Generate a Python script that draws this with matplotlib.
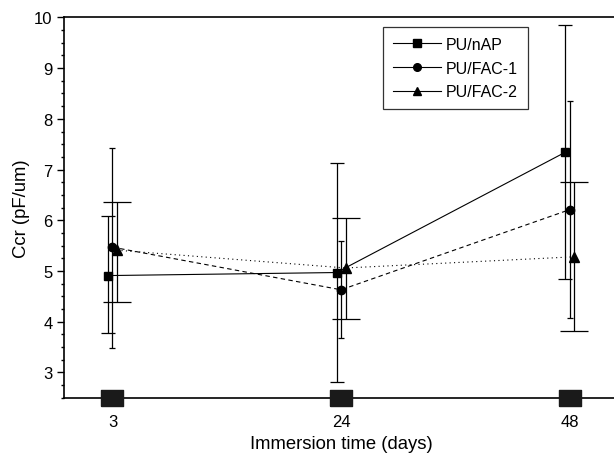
import numpy as np
import matplotlib
matplotlib.use("Agg")
import matplotlib.pyplot as plt
from matplotlib.lines import Line2D
from matplotlib.ticker import MultipleLocator

plt.rcParams['font.family'] = ['Liberation Sans', 'DejaVu Sans']

# immersion time categories
days = ['3', '24', '48']

# PU/nAP
nap_mean = [4.91, 4.97, 7.34]
nap_low = [3.77, 2.81, 4.85]
nap_high = [6.08, 7.12, 9.86]

# PU/FAC-1
fac1_mean = [5.47, 4.63, 6.21]
fac1_low = [3.49, 3.67, 4.08]
fac1_high = [7.43, 5.59, 8.36]

# PU/FAC-2
fac2_mean = [5.41, 5.06, 5.28]
fac2_low = [4.39, 4.05, 3.81]
fac2_high = [6.36, 6.05, 6.75]

x = np.arange(len(days))

fig = plt.figure(figsize=(6.14, 4.60), dpi=100)
ax = fig.add_axes([0.105, 0.133, 0.901, 0.827])

def draw(mean, low, high, dx, marker, ms, ls, cap):
    mean = np.array(mean)
    yerr = [mean - np.array(low), np.array(high) - mean]
    ax.errorbar(x + dx, mean, yerr=yerr, fmt='none', ecolor='black',
                elinewidth=0.9, capsize=cap, capthick=0.9, zorder=2)
    ax.plot(x + dx, mean, color='black', linestyle=ls, linewidth=0.8,
            marker=marker, markersize=ms, zorder=3)

draw(nap_mean, nap_low, nap_high, -0.02, 's', 5.5, '-', 5)
draw(fac1_mean, fac1_low, fac1_high, 0.0, 'o', 6, (0, (4, 3)), 2)
draw(fac2_mean, fac2_low, fac2_high, 0.02, '^', 6.5, (0, (1, 3)), 10)

ax.set_xlim(-0.21, 2.21)
ax.set_xticks(x)
ax.set_xticklabels(days)
ax.tick_params(axis='x', length=0, pad=12, labelsize=12)
ax.yaxis.set_major_locator(MultipleLocator(1))
ax.yaxis.set_minor_locator(MultipleLocator(0.25))
ax.tick_params(axis='y', which='major', direction='out', length=5, width=1, labelsize=12)
ax.tick_params(axis='y', which='minor', direction='out', length=2.5, width=1)
ax.set_ylim(2.5, 10)

# big square tick markers on the bottom axis
rect = [(-1, -0.73), (1, -0.73), (1, 0.73), (-1, 0.73), (-1, -0.73)]
ax.plot(x, np.full(len(x), ax.get_ylim()[0]), linestyle='none', marker=rect,
        markersize=16, color='#1a1a1a', clip_on=False, zorder=5)

for s in ax.spines.values():
    s.set_linewidth(1.2)

ax.set_xlabel('Immersion time (days)', fontsize=13.3, labelpad=4)
ax.set_ylabel('Ccr (pF/um)', fontsize=13.3, labelpad=3)

handles = [Line2D([], [], color='black', lw=0.8, marker=m, markersize=5.5)
           for m in ['s', 'o', '^']]
leg = ax.legend(handles, ['PU/nAP', 'PU/FAC-1', 'PU/FAC-2'],
                loc='upper left', bbox_to_anchor=(0.576, 0.974), borderaxespad=0,
                fontsize=11.5, frameon=True, fancybox=False, edgecolor='black',
                handlelength=3.0, handletextpad=0.35, borderpad=0.6,
                labelspacing=0.55)
leg.get_frame().set_linewidth(0.9)

fig.savefig('out.png', dpi=100)
